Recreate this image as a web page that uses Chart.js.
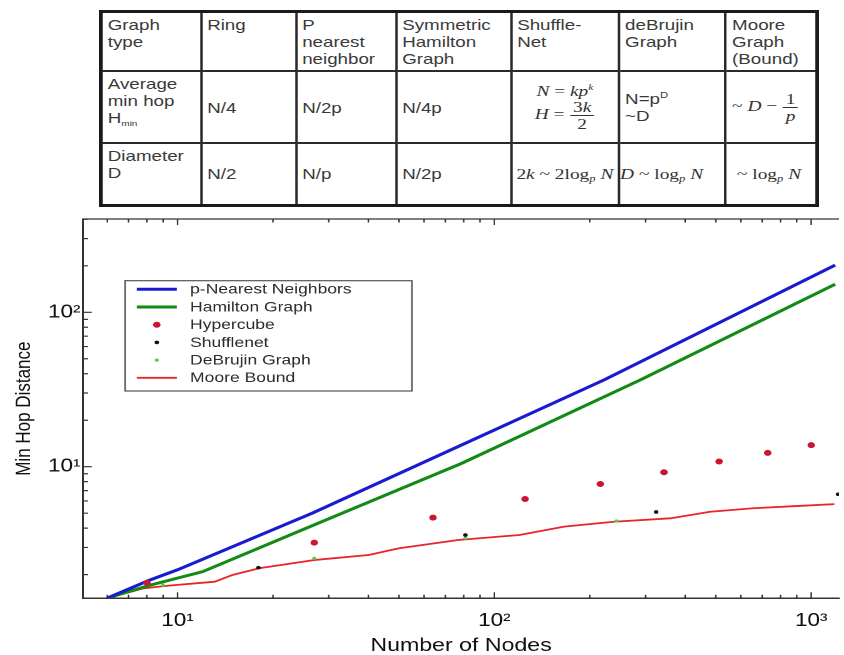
<!DOCTYPE html>
<html>
<head>
<meta charset="utf-8">
<script src="https://cdn.jsdelivr.net/npm/chart.js@4"></script>
<style>
  html, body { margin: 0; padding: 0; background: #fff; }
  body { width: 844px; height: 655px; position: relative; overflow: hidden; font-family: "Liberation Sans", Arial, sans-serif; }
  #tableWrap { position: absolute; left: 99px; top: 10px; width: 572.8px; transform: scaleX(1.25); transform-origin: 0 0; }
  table { border-collapse: collapse; width: 572.8px; height: 187px; table-layout: fixed; border: 3px solid #1a1a1a; color: #3a3a3a; font-size: 15px; line-height: 17px; }
  td { border: 2px solid #2a2a2a; padding: 3px 4px; vertical-align: middle; text-align: left; white-space: nowrap; overflow: visible; }
  td.top { vertical-align: top; }
  td.c { text-align: center; padding: 3px 0; }
  sub { font-size: 8px; vertical-align: -3px; line-height: 0; }
  sup { font-size: 9px; vertical-align: 6px; line-height: 0; }
  .m { font-family: "Liberation Serif", "DejaVu Serif", serif; font-size: 15.5px; color: #333; }
  .m sub { font-size: 10px; }
  .frac { display: inline-flex; flex-direction: column; vertical-align: middle; text-align: center; line-height: 16px; margin: 0 1px; }
  .frac span:first-child { border-bottom: 1px solid #333; padding: 0 2px; }
  #chartWrap { position: absolute; left: 0; top: 200px; width: 675px; height: 455px; transform: scaleX(1.2504); transform-origin: 0 0; }
</style>
</head>
<body>
<div id="tableWrap">
<table>
  <colgroup>
    <col style="width:80px"><col style="width:76px"><col style="width:80px"><col style="width:92px">
    <col style="width:86.4px"><col style="width:85.6px"><col style="width:72.8px">
  </colgroup>
  <tr style="height:53px">
    <td class="top">Graph<br>type</td>
    <td class="top">Ring</td>
    <td class="top">P<br>nearest<br>neighbor</td>
    <td class="top">Symmetric<br>Hamilton<br>Graph</td>
    <td class="top">Shuffle-<br>Net</td>
    <td class="top">deBrujin<br>Graph</td>
    <td class="top">Moore<br>Graph<br>(Bound)</td>
  </tr>
  <tr style="height:72px">
    <td class="top">Average<br>min hop<br>H<sub>min</sub></td>
    <td>N/4</td>
    <td>N/2p</td>
    <td>N/4p</td>
    <td class="c m"><i>N</i> = <i>kp</i><sup><i>k</i></sup><br><i>H</i> = <span class="frac"><span>3<i>k</i></span><span>2</span></span></td>
    <td>N=p<sup>D</sup><br>~D</td>
    <td class="m">~ <i>D</i> &minus; <span class="frac"><span>1</span><span><i>p</i></span></span></td>
  </tr>
  <tr style="height:62px">
    <td class="top">Diameter<br>D</td>
    <td>N/2</td>
    <td>N/p</td>
    <td>N/2p</td>
    <td class="c m">2<i>k</i> ~ 2log<sub><i>p</i></sub> <i>N</i></td>
    <td class="m" style="padding-left:0"><i>D</i> ~ log<sub><i>p</i></sub> <i>N</i></td>
    <td class="m">&nbsp;~ log<sub><i>p</i></sub> <i>N</i></td>
  </tr>
</table>
</div>

<div id="chartWrap"><canvas id="hopChart"></canvas></div>

<script>
// AXIS RANGES AND TICKS
const X_MIN = 5.03, X_MAX = 1224;
const Y_MIN = 1.405, Y_MAX = 402;
const xTickValues = [10, 100, 1000];
const xTickLabels = ['10\u00b9', '10\u00b2', '10\u00b3'];
const yTickValues = [10, 100];
const yTickLabels = ['10\u00b9', '10\u00b2'];

// SERIES
const pNearestN = [6, 8.2, 10, 26.6, 78.7, 222, 1190];
const pNearestH = [1.41, 1.85, 2.15, 5.0, 13.8, 36.5, 202];

const hamiltonN = [6, 8.2, 12, 26.6, 78.7, 289, 1190];
const hamiltonH = [1.41, 1.71, 2.09, 4.15, 10.5, 36.5, 152];

const hypercubeN = [8, 27, 64, 125, 216, 343, 512, 729, 1000];
const hypercubeH = [1.77, 3.22, 4.68, 6.18, 7.72, 9.2, 10.8, 12.3, 13.8];

const shufflenetN = [18, 81, 324, 1215];
const shufflenetH = [2.22, 3.61, 5.09, 6.63];

const deBrujinN = [9, 27, 81, 243];
const deBrujinH = [1.71, 2.55, 3.44, 4.45];

const mooreN = [6, 7.8, 9.2, 13.1, 14.9, 18.1, 27.2, 40.1, 49.8, 76.8, 120, 166, 238, 359, 480, 656, 897, 1183];
const mooreH = [1.41, 1.63, 1.69, 1.80, 1.99, 2.20, 2.49, 2.68, 2.96, 3.35, 3.61, 4.09, 4.40, 4.63, 5.11, 5.38, 5.56, 5.72];

Chart.defaults.font.family = '"Liberation Sans", Arial, sans-serif';
Chart.defaults.color = '#111';

function toPoints(xs, ys) { return xs.map((x, i) => ({ x, y: ys[i] })); }

function lineSet(label, xs, ys, color, width) {
  return { label, data: toPoints(xs, ys), showLine: true, borderColor: color, backgroundColor: color,
    borderWidth: width, pointRadius: 0, tension: 0, order: 1 };
}

function dotSet(label, xs, ys, color, r) {
  return { label, data: toPoints(xs, ys), showLine: false, borderColor: color, backgroundColor: color,
    pointBackgroundColor: color, pointBorderWidth: 0, pointRadius: r, order: 0 };
}

// inward tick marks + top frame line
const frameTicks = {
  id: 'frameTicks',
  afterDatasetsDraw(chart) {
    const { ctx, chartArea: ca, scales: { x, y } } = chart;
    ctx.save();
    ctx.strokeStyle = '#333';
    ctx.lineWidth = 1.2;
    ctx.beginPath();
    ctx.moveTo(ca.left, ca.top); ctx.lineTo(ca.right, ca.top);
    for (let d = 1; d <= 1000; d *= 10) {
      for (let m = 1; m <= 9; m++) {
        const v = m * d;
        if (v >= x.min && v <= x.max) {
          const px = x.getPixelForValue(v), len = m === 1 ? 6 : 3.5;
          ctx.moveTo(px, ca.bottom); ctx.lineTo(px, ca.bottom - len);
          ctx.moveTo(px, ca.top); ctx.lineTo(px, ca.top + len);
        }
        if (v >= y.min && v <= y.max) {
          const py = y.getPixelForValue(v), len = m === 1 ? 7 : 4;
          ctx.moveTo(ca.left, py); ctx.lineTo(ca.left + len, py);
        }
      }
    }
    ctx.stroke();
    ctx.restore();
  }
};

// boxed legend inside the plot, like the original
const boxLegend = {
  id: 'boxLegend',
  afterDraw(chart) {
    const { ctx, chartArea: ca } = chart;
    const bx = ca.left + 33.6, by = ca.top + 61.7, bw = 229.4, bh = 110.3, row = 17.7;
    ctx.save();
    ctx.fillStyle = '#fff';
    ctx.fillRect(bx, by, bw, bh);
    ctx.strokeStyle = '#555';
    ctx.lineWidth = 1.2;
    ctx.strokeRect(bx, by, bw, bh);
    ctx.font = '14px "Liberation Sans", Arial, sans-serif';
    ctx.textBaseline = 'middle';
    chart.data.datasets.forEach((ds, i) => {
      const cy = by + 8.6 + i * row;
      if (ds.showLine) {
        ctx.strokeStyle = ds.borderColor;
        ctx.lineWidth = ds.borderWidth;
        ctx.beginPath(); ctx.moveTo(bx + 9.4, cy); ctx.lineTo(bx + 41.4, cy); ctx.stroke();
      } else {
        ctx.fillStyle = ds.pointBackgroundColor;
        ctx.beginPath(); ctx.arc(bx + 25.4, cy, ds.pointRadius, 0, Math.PI * 2); ctx.fill();
      }
      ctx.fillStyle = '#2a2a2a';
      ctx.fillText(ds.label, bx + 52, cy + 0.5);
    });
    ctx.restore();
  }
};

new Chart(document.getElementById('hopChart'), {
  type: 'scatter',
  data: {
    datasets: [
      lineSet('p-Nearest Neighbors', pNearestN, pNearestH, '#1a1ad0', 3),
      lineSet('Hamilton Graph', hamiltonN, hamiltonH, '#138a13', 3),
      dotSet('Hypercube', hypercubeN, hypercubeH, '#cc1630', 3),
      dotSet('Shufflenet', shufflenetN, shufflenetH, '#111111', 1.8),
      dotSet('DeBrujin Graph', deBrujinN, deBrujinH, '#4cd34c', 1.6),
      lineSet('Moore Bound', mooreN, mooreH, '#e8242c', 1.8)
    ]
  },
  options: {
    responsive: true,
    maintainAspectRatio: false,
    animation: false,
    devicePixelRatio: 2,
    layout: { padding: { top: 19, right: 0, bottom: 0, left: 0 } },
    plugins: { legend: { display: false }, tooltip: { enabled: false } },
    scales: {
      x: {
        type: 'logarithmic', min: X_MIN, max: X_MAX, bounds: 'data',
        grid: { display: false, drawTicks: false },
        border: { display: true, color: '#333', width: 1.5 },
        afterBuildTicks: s => { s.ticks = xTickValues.map(v => ({ value: v })); },
        ticks: { callback: (v, i) => xTickLabels[i], color: '#111', font: { size: 18 }, padding: 12, maxRotation: 0, autoSkip: false },
        title: { display: true, text: 'Number of Nodes', color: '#111', font: { size: 18.5, lineHeight: 1 }, padding: { top: 0, bottom: 0 } },
        afterFit: s => { s.height = 56.7; }
      },
      y: {
        type: 'logarithmic', min: Y_MIN, max: Y_MAX, bounds: 'data',
        grid: { display: false, drawTicks: false },
        border: { display: true, color: '#333', width: 1.5 },
        afterBuildTicks: s => { s.ticks = yTickValues.map(v => ({ value: v })); },
        ticks: { callback: (v, i) => yTickLabels[i], color: '#111', font: { size: 18 }, padding: 2, autoSkip: false },
        title: { display: true, text: 'Min Hop Distance', color: '#111', font: { size: 17, lineHeight: 1.2 }, padding: { top: 9, bottom: 0 } },
        afterFit: s => { s.width = 66.4; }
      }
    }
  },
  plugins: [frameTicks, boxLegend]
});
</script>
</body>
</html>
